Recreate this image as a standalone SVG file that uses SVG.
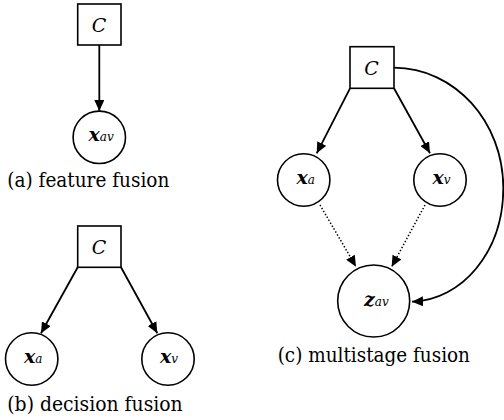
<svg xmlns="http://www.w3.org/2000/svg" width="504" height="420" viewBox="0 0 504 420">
  <defs>
    <marker id="arrow" markerUnits="userSpaceOnUse" markerWidth="12" markerHeight="10" refX="11" refY="5" orient="auto">
      <path d="M0,0 L11,5 L0,10 Z" fill="#000"/>
    </marker>
  </defs>
  <style>
    .box{fill:#fff;stroke:#000;stroke-width:1.6}
    .node{fill:#fff;stroke:#000;stroke-width:1.6}
    .edge{fill:none;stroke:#000;stroke-width:1.8;marker-end:url(#arrow)}
    .dot{fill:none;stroke:#000;stroke-width:1.5;stroke-dasharray:1.4 2;marker-end:url(#arrow)}
    text{font-family:'DejaVu Serif',serif;fill:#000}
    .lbl{font-size:20px}
    .c{font-style:italic;font-size:19px}
    .v{font-style:italic;font-weight:bold;font-size:19px}
    .s{font-weight:normal;font-size:12px}
  </style>

  <!-- connectors -->
  <g id="connectors">
    <!-- (a) -->
    <line class="edge" x1="99.3" y1="45" x2="99.3" y2="111"/>
    <!-- (b) -->
    <line class="edge" x1="77.7" y1="267.3" x2="41" y2="333.3"/>
    <line class="edge" x1="121" y1="267.3" x2="157.3" y2="333.3"/>
    <!-- (c) -->
    <line class="edge" x1="350" y1="88.3" x2="316.7" y2="153.3"/>
    <line class="edge" x1="394" y1="88.3" x2="430" y2="153.3"/>
    <line class="dot" x1="320" y1="205" x2="356" y2="266.7"/>
    <line class="dot" x1="425" y1="205" x2="391.7" y2="266.7"/>
    <path class="edge" d="M394,67.7 C455,68 503.3,122 503.3,188 C503.3,252 462,300 412,301.7"/>
  </g>

  <!-- (a) feature fusion -->
  <g id="a-C">
    <rect class="box" x="77.7" y="4" width="43.3" height="41"/>
    <text class="c" x="99" y="32" text-anchor="middle">C</text>
  </g>
  <g id="a-xav">
    <circle class="node" cx="99.3" cy="137.3" r="26.2"/>
    <text class="v" x="88.5" y="141">x<tspan class="s">av</tspan></text>
  </g>
  <text class="lbl" x="7.3" y="187" textLength="162" lengthAdjust="spacingAndGlyphs">(a) feature fusion</text>

  <!-- (b) decision fusion -->
  <g id="b-C">
    <rect class="box" x="77.7" y="226" width="43.3" height="41.3"/>
    <text class="c" x="99" y="253.5" text-anchor="middle">C</text>
  </g>
  <g id="b-xa">
    <circle class="node" cx="31.7" cy="359" r="26.2"/>
    <text class="v" x="24" y="363">x<tspan class="s">a</tspan></text>
  </g>
  <g id="b-xv">
    <circle class="node" cx="168" cy="359" r="26.2"/>
    <text class="v" x="160" y="363">x<tspan class="s">v</tspan></text>
  </g>
  <text class="lbl" x="7.3" y="410.7" textLength="175.4" lengthAdjust="spacingAndGlyphs">(b) decision fusion</text>

  <!-- (c) multistage fusion -->
  <g id="c-C">
    <rect class="box" x="350" y="46.7" width="44" height="41.6"/>
    <text class="c" x="371.5" y="75" text-anchor="middle">C</text>
  </g>
  <g id="c-xa">
    <circle class="node" cx="303.7" cy="180" r="26.2"/>
    <text class="v" x="296.5" y="184">x<tspan class="s">a</tspan></text>
  </g>
  <g id="c-xv">
    <circle class="node" cx="440" cy="180" r="26.2"/>
    <text class="v" x="432.5" y="184">x<tspan class="s">v</tspan></text>
  </g>
  <g id="c-zav">
    <circle class="node" cx="373.7" cy="301" r="36"/>
    <text class="v" x="364" y="306">z<tspan class="s">av</tspan></text>
  </g>
  <text class="lbl" x="277.7" y="361.7" textLength="192.3" lengthAdjust="spacingAndGlyphs">(c) multistage fusion</text>
</svg>
